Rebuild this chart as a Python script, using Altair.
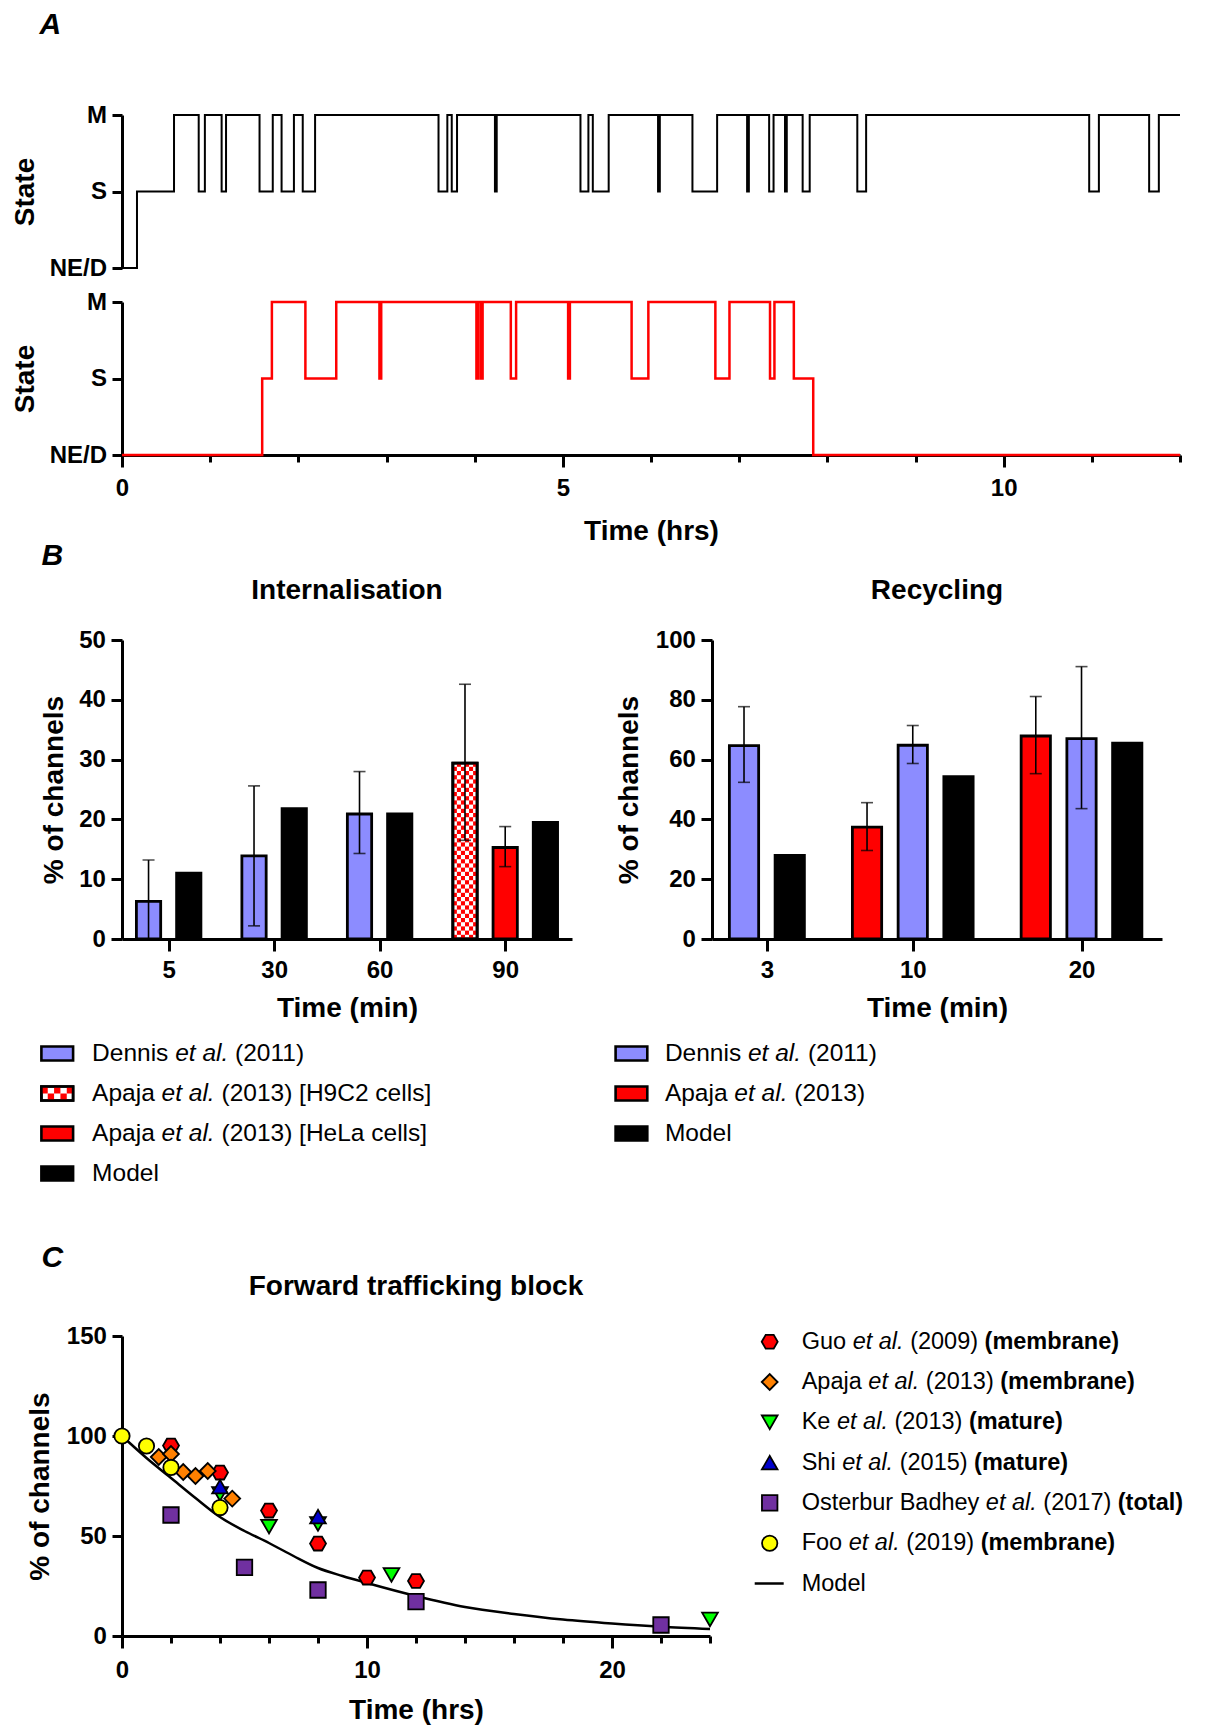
import altair as alt
import pandas as pd

FONT = "Liberation Sans"

# ---------------- Panel A : single-channel state traces ----------------
state_labels = ["NE/D", "S", "M"]
trace1_time = [0, 0.17, 0.59, 0.87, 0.94, 1.13, 1.18, 1.56, 1.71, 1.81, 1.95, 2.05, 2.19,
               3.59, 3.69, 3.74, 3.80, 4.23, 4.25, 5.20, 5.29, 5.34, 5.52, 6.08, 6.10,
               6.47, 6.75, 7.09, 7.11, 7.34, 7.39, 7.52, 7.54, 7.72, 7.80, 8.34, 8.44,
               10.97, 11.08, 11.65, 11.76, 12.0]
trace1_state = [0, 1, 2, 1, 2, 1, 2, 1, 2, 1, 2, 1, 2,
                1, 2, 1, 2, 1, 2, 1, 2, 1, 2, 1, 2,
                1, 2, 1, 2, 1, 2, 1, 2, 1, 2, 1, 2,
                1, 2, 1, 2, 2]
trace2_time = [0, 1.59, 1.70, 2.08, 2.43, 2.92, 2.94, 4.02, 4.04, 4.07, 4.09, 4.41, 4.47,
               5.06, 5.08, 5.78, 5.97, 6.73, 6.89, 7.35, 7.40, 7.62, 7.84, 12.0]
trace2_state = [0, 1, 2, 1, 2, 1, 2, 1, 2, 1, 2, 1, 2,
                1, 2, 1, 2, 1, 2, 1, 2, 1, 0, 0]

# ---------------- Panel B : internalisation / recycling ----------------
int_groups = ["5", "5", "30", "30", "60", "60", "90", "90", "90"]
int_series = ["Dennis", "Model", "Dennis", "Model", "Dennis", "Model", "ApajaH9C2", "ApajaHeLa", "Model"]
int_values = [6.3, 11.0, 13.9, 21.8, 20.9, 20.9, 29.4, 15.3, 19.5]
int_err_hi = [13.2, None, 25.6, None, 28.0, None, 42.6, 18.8, None]
int_err_lo = [0.0, None, 2.2, None, 14.3, None, 16.5, 12.1, None]

rec_groups = ["3", "3", "10", "10", "10", "20", "20", "20"]
rec_series = ["Dennis", "Model", "Apaja", "Dennis", "Model", "Apaja", "Dennis", "Model"]
rec_values = [64.7, 28.0, 37.4, 64.8, 54.3, 67.9, 67.0, 65.5]
rec_err_hi = [77.7, None, 45.6, 71.4, None, 81.1, 91.1, None]
rec_err_lo = [52.4, None, 29.6, 58.7, None, 55.3, 43.6, None]

int_legend = [[("Dennis", "r"), ("et al.", "i"), ("(2011)", "r")],
              [("Apaja", "r"), ("et al.", "i"), ("(2013) [H9C2 cells]", "r")],
              [("Apaja", "r"), ("et al.", "i"), ("(2013) [HeLa cells]", "r")],
              [("Model", "r")]]
int_legend_series = ["Dennis", "ApajaH9C2", "ApajaHeLa", "Model"]
rec_legend = [[("Dennis", "r"), ("et al.", "i"), ("(2011)", "r")],
              [("Apaja", "r"), ("et al.", "i"), ("(2013)", "r")],
              [("Model", "r")]]
rec_legend_series = ["Dennis", "Apaja", "Model"]

# ---------------- Panel C : forward trafficking block ----------------
guo_t = [2, 4, 6, 8, 10, 12]
guo_v = [95.2, 81.7, 62.7, 46.2, 29.2, 27.5]
apaja_t = [1.5, 2, 2.5, 3, 3.5, 4.5]
apaja_v = [89.5, 91.0, 82.0, 80.0, 82.5, 68.7]
ke_t = [4, 6, 8, 11, 24]
ke_v = [71.0, 54.7, 56.0, 30.5, 8.3]
shi_t = [4, 8]
shi_v = [74.7, 59.7]
oster_t = [2, 5, 8, 12, 22]
oster_v = [60.5, 34.3, 23.0, 17.2, 5.5]
foo_t = [0, 1, 2, 4]
foo_v = [100.0, 95.0, 84.3, 64.2]
model_t = [0, 1, 2, 3, 4, 5, 6, 7, 8, 9, 10, 12, 14, 16, 18, 20, 22, 24]
model_v = [100, 89, 79, 69, 59.5, 52.5, 46.5, 40, 34, 30, 26.5, 20, 14.5, 11, 8.2, 6.2, 4.6, 3.5]

c_sources = ["Guo", "Apaja", "Ke", "Shi", "Osterbur", "Foo"]
c_legend = [[("Guo", "r"), ("et al.", "i"), ("(2009)", "r"), ("(membrane)", "b")],
            [("Apaja", "r"), ("et al.", "i"), ("(2013)", "r"), ("(membrane)", "b")],
            [("Ke", "r"), ("et al.", "i"), ("(2013)", "r"), ("(mature)", "b")],
            [("Shi", "r"), ("et al.", "i"), ("(2015)", "r"), ("(mature)", "b")],
            [("Osterbur Badhey", "r"), ("et al.", "i"), ("(2017)", "r"), ("(total)", "b")],
            [("Foo", "r"), ("et al.", "i"), ("(2019)", "r"), ("(membrane)", "b")],
            [("Model", "r")]]

# ---------------- styles ----------------
BLUE = "#8C8CFF"
RED = "#FF0000"
HEX = "M-1,0L-0.5,-0.866L0.5,-0.866L1,0L0.5,0.866L-0.5,0.866Z"
c_fill = ["#FF0000", "#FF8000", "#00FF00", "#0000CC", "#7030A0", "#FFFF00"]
c_shape = [HEX, "diamond", "triangle-down", "triangle-up", "square", "circle"]
c_size = [255, 235, 215, 195, 205, 280]
bar_domain = ["Dennis", "ApajaH9C2", "ApajaHeLa", "Apaja", "Model"]
bar_range = [BLUE, "white", RED, RED, "black"]

# Arial / Liberation Sans advance widths (per 1000 em)
REG = {' ': 278, '(': 333, ')': 333, '.': 278, '[': 278, ']': 278, '/': 278}
for d in "0123456789":
    REG[d] = 556
REG.update(dict(zip("ABCDEFGHIJKLMNOPQRSTUVWXYZ",
                    [667, 667, 722, 722, 667, 611, 778, 722, 278, 500, 667, 556, 833, 722, 778, 667, 778, 722,
                     667, 611, 722, 667, 944, 667, 667, 611])))
REG.update(dict(zip("abcdefghijklmnopqrstuvwxyz",
                    [556, 556, 500, 556, 556, 278, 556, 556, 222, 222, 500, 222, 833, 556, 556, 556, 556, 333,
                     500, 278, 556, 500, 722, 500, 500, 500])))
BOLD = dict(REG)
BOLD.update(dict(zip("abcdefghijklmnopqrstuvwxyz",
                     [556, 611, 556, 611, 556, 333, 611, 611, 278, 278, 556, 278, 889, 611, 611, 611, 611, 389,
                      556, 333, 611, 556, 778, 556, 556, 500])))


def text_width(s, bold, size):
    tbl = BOLD if bold else REG
    return sum(tbl.get(ch, 556) for ch in s) * size / 1000.0


def anchor(x1, x2, y1, y2):
    return alt.Chart(alt.Data(values=[{"k": 0}])).mark_rule(opacity=0, color="white", strokeWidth=0.5).encode(
        x=alt.value(x1), x2=alt.value(x2), y=alt.value(y1), y2=alt.value(y2))


def letter(ch, x, y):
    return alt.Chart(alt.Data(values=[{"t": ch}])).mark_text(
        font=FONT, fontSize=30, fontWeight="bold", fontStyle="italic", align="left",
        baseline="alphabetic", color="black").encode(x=alt.value(x), y=alt.value(y), text="t:N")


def panel_title(txt, x, y):
    return alt.Chart(alt.Data(values=[{"t": txt}])).mark_text(
        font=FONT, fontSize=28, fontWeight="bold", align="center", baseline="middle",
        color="black").encode(x=alt.value(x), y=alt.value(y), text="t:N")


def legend_text_layers(entries, x0, y0, step, size):
    rows = []
    for i, segs in enumerate(entries):
        x = x0
        for txt, sty in segs:
            rows.append({"lx": x, "ly": y0 + i * step, "txt": txt, "sty": sty})
            x += text_width(txt + " ", sty == "b", size)
    df = pd.DataFrame(rows)
    layers = []
    for sty, style, weight in [("r", "normal", "normal"), ("i", "italic", "normal"), ("b", "normal", "bold")]:
        sub = df[df.sty == sty]
        if len(sub) == 0:
            continue
        layers.append(alt.Chart(sub).mark_text(
            font=FONT, fontSize=size, fontStyle=style, fontWeight=weight, align="left",
            baseline="middle", color="black").encode(
            x=alt.X("lx:Q", scale=None, axis=None), y=alt.Y("ly:Q", scale=None, axis=None), text="txt:N"))
    return layers


AX = dict(tickWidth=3, domainWidth=3, labelFontSize=24, labelFontWeight="bold", titleFontSize=28,
          titleFontWeight="bold", labelFlush=False, labelOverlap=False, grid=False)

# ---------------- Panel A charts ----------------
state_expr = (f"datum.value == 2 ? '{state_labels[2]}' : datum.value == 1 ? '{state_labels[1]}' : "
              f"'{state_labels[0]}'")


def state_axis():
    return alt.Axis(values=[0, 1, 2], labelExpr=state_expr, title="State", tickSize=10, labelPadding=5.4,
                    titlePadding=10, **AX)


a_xs = alt.Scale(domain=[0, 12], nice=False, zero=False)
a_ys = alt.Scale(domain=[0, 2], nice=False, zero=False)

a_top_line = alt.Chart(pd.DataFrame({"t": trace1_time, "s": trace1_state})).mark_line(
    interpolate="step-after", color="black", strokeWidth=2).encode(
    x=alt.X("t:Q", scale=a_xs, axis=None),
    y=alt.Y("s:Q", scale=a_ys, axis=state_axis()))
a_top = alt.layer(anchor(-113.5, -113.5, -107, 170), a_top_line, letter("A", -82.5, -81)).properties(
    width=1058, height=153)

a_x_axis = alt.Axis(values=list(range(13)),
                    tickSize={"condition": {"test": "datum.value % 5 === 0", "value": 12}, "value": 7},
                    labelExpr="datum.value % 5 === 0 ? datum.label : ''", title="Time (hrs)",
                    labelPadding=9.6, titlePadding=16.7, **AX)
a_bot_line = alt.Chart(pd.DataFrame({"t": trace2_time, "s": trace2_state})).mark_line(
    interpolate="step-after", color=RED, strokeWidth=2.5).encode(
    x=alt.X("t:Q", scale=a_xs, axis=a_x_axis),
    y=alt.Y("s:Q", scale=a_ys, axis=state_axis()))
a_bottom = alt.layer(anchor(-113.5, -113.5, -17, 269), a_bot_line,
                     letter("B", -80.5, 263)).properties(width=1058, height=153)


# ---------------- Panel B charts ----------------
def bar_panel(groups, series, values, hi, lo, extra, half_w, dom, ymax, ystep,
              checker, title, ytitle_pad, legend_entries, legend_series, sw_x, txt_x, anc):
    width, height = 450, 299
    pos, p, prev = [], 0.0, None
    for g in groups:
        if prev is not None:
            p += 1.0 if g == prev else 1.0 + extra
        pos.append(p)
        prev = g
    cen = {}
    for g, q in zip(groups, pos):
        cen.setdefault(g, []).append(q)
    cen = {g: sum(v) / len(v) for g, v in cen.items()}
    lab_expr = " : ".join(f"abs(datum.value - {c:.4f}) < 0.01 ? '{g}'" for g, c in cen.items()) + " : ''"

    xs = alt.Scale(domain=dom, nice=False, zero=False)
    ys = alt.Scale(domain=[0, ymax], nice=False, zero=False)
    fs = alt.Scale(domain=bar_domain, range=bar_range)
    x_axis = alt.Axis(values=list(cen.values()), labelExpr=lab_expr, title="Time (min)", tickSize=12,
                      labelPadding=7.6, titlePadding=11.7, **AX)
    y_axis = alt.Axis(values=list(range(0, ymax + 1, ystep)), title="% of channels", tickSize=11,
                      labelPadding=5.6, titlePadding=ytitle_pad, **AX)

    df_b = pd.DataFrame({"pos": pos, "series": series, "value": values})
    df_b["x0"] = df_b.pos - half_w
    df_b["x1"] = df_b.pos + half_w
    df_b["zero"] = 0.0
    bars = alt.Chart(df_b).mark_rect(stroke="black", strokeWidth=2.8).encode(
        x=alt.X("x0:Q", scale=xs, axis=x_axis), x2="x1:Q",
        y=alt.Y("value:Q", scale=ys, axis=y_axis), y2="zero:Q",
        fill=alt.Fill("series:N", scale=fs, legend=None))
    layers = [anchor(*anc), bars]

    # checkerboard bars (red squares on white)
    cells = []
    ch = 4.2 * ymax / height
    for q, s, v in zip(pos, series, values):
        if s == checker:
            ncol = 6
            cw = 2 * half_w / ncol
            j, y = 0, 0.0
            while y < v - 1e-6:
                top = min(y + ch, v)
                for i in range(ncol):
                    if (i + j) % 2 == 0:
                        cells.append({"cx0": q - half_w + i * cw, "cx1": q - half_w + (i + 1) * cw,
                                      "cy0": y, "cy1": top})
                y += ch
                j += 1
    if cells:
        layers.append(alt.Chart(pd.DataFrame(cells)).mark_rect(color=RED).encode(
            x=alt.X("cx0:Q", scale=xs), x2="cx1:Q", y=alt.Y("cy0:Q", scale=ys), y2="cy1:Q"))
        layers.append(alt.Chart(df_b[df_b.series == checker]).mark_rect(
            fillOpacity=0, stroke="black", strokeWidth=2.8).encode(
            x=alt.X("x0:Q", scale=xs), x2="x1:Q", y=alt.Y("value:Q", scale=ys), y2="zero:Q"))

    err = [{"pos": q, "lo": l, "hi": h} for q, l, h in zip(pos, lo, hi) if h is not None]
    caps = []
    for e in err:
        caps.append({"pos": e["pos"], "yv": e["hi"]})
        if e["lo"] > 0:
            caps.append({"pos": e["pos"], "yv": e["lo"]})
    layers.append(alt.Chart(pd.DataFrame(err)).mark_rule(color="black", strokeWidth=1.6).encode(
        x=alt.X("pos:Q", scale=xs), y=alt.Y("lo:Q", scale=ys), y2="hi:Q"))
    layers.append(alt.Chart(pd.DataFrame(caps)).mark_tick(
        orient="horizontal", size=12, thickness=1.6, color="black").encode(
        x=alt.X("pos:Q", scale=xs), y=alt.Y("yv:Q", scale=ys)))

    # legend
    leg_y0, leg_step = 413.5, 40
    sw = pd.DataFrame({"series": legend_series,
                       "sx1": [sw_x] * len(legend_series),
                       "sx2": [sw_x + 31.7] * len(legend_series),
                       "sy1": [leg_y0 + i * leg_step - 7 for i in range(len(legend_series))],
                       "sy2": [leg_y0 + i * leg_step + 7 for i in range(len(legend_series))]})
    layers.append(alt.Chart(sw).mark_rect(stroke="black", strokeWidth=2.6).encode(
        x=alt.X("sx1:Q", scale=None, axis=None), x2="sx2:Q",
        y=alt.Y("sy1:Q", scale=None, axis=None), y2="sy2:Q",
        fill=alt.Fill("series:N", scale=fs, legend=None)))
    sw_cells = []
    for i, s in enumerate(legend_series):
        if s == checker:
            cy = leg_y0 + i * leg_step
            for r in range(2):
                for c in range(5):
                    if (r + c) % 2 == 0:
                        sw_cells.append({"a": sw_x + c * 6.34, "b": sw_x + (c + 1) * 6.34,
                                         "c": cy - 7 + r * 7, "d": cy - 7 + (r + 1) * 7})
    if sw_cells:
        layers.append(alt.Chart(pd.DataFrame(sw_cells)).mark_rect(color=RED).encode(
            x=alt.X("a:Q", scale=None, axis=None), x2="b:Q",
            y=alt.Y("c:Q", scale=None, axis=None), y2="d:Q"))
        sw_ck = sw[sw.series == checker]
        layers.append(alt.Chart(sw_ck).mark_rect(fillOpacity=0, stroke="black", strokeWidth=2.6).encode(
            x=alt.X("sx1:Q", scale=None, axis=None), x2="sx2:Q",
            y=alt.Y("sy1:Q", scale=None, axis=None), y2="sy2:Q"))
    layers += legend_text_layers(legend_entries, txt_x, leg_y0, leg_step, 24.5)
    layers.append(panel_title(title, width / 2, -49))
    return alt.layer(*layers).properties(width=width, height=height)


b_left = bar_panel(int_groups, int_series, int_values, int_err_hi, int_err_lo, 0.623, 0.302, [-0.66, 10.53],
                   50, 10, "ApajaH9C2", "Internalisation", 10, int_legend, int_legend_series, -80.6, -29.9,
                   (-113.5, 479.9, -69, 570))
b_right = bar_panel(rec_groups, rec_series, rec_values, rec_err_hi, rec_err_lo, 0.69, 0.32, [-0.70, 9.14],
                    100, 20, None, "Recycling", 12, rec_legend, rec_legend_series, -96.4, -47.1,
                    (-110, -110, -69, 570))
b_row = alt.hconcat(b_left, b_right, spacing=0).resolve_scale(fill="independent")

# ---------------- Panel C chart ----------------
pts = []
for src, ts, vs in zip(c_sources, [guo_t, apaja_t, ke_t, shi_t, oster_t, foo_t],
                       [guo_v, apaja_v, ke_v, shi_v, oster_v, foo_v]):
    for t, v in zip(ts, vs):
        pts.append({"src": src, "t": t, "v": v})
df_pts = pd.DataFrame(pts)

c_xs = alt.Scale(domain=[0, 24], nice=False, zero=False)
c_ys = alt.Scale(domain=[0, 150], nice=False, zero=False)
fill_s = alt.Scale(domain=c_sources, range=c_fill)
shape_s = alt.Scale(domain=c_sources, range=c_shape)
size_s = alt.Scale(domain=c_sources, range=c_size)

c_x_axis = alt.Axis(values=list(range(25)),
                    tickSize={"condition": {"test": "datum.value % 10 === 0", "value": 12}, "value": 7},
                    labelExpr="datum.value % 10 === 0 ? datum.label : ''", title="Time (hrs)",
                    labelPadding=10.6, titlePadding=13.7, **AX)
c_y_axis = alt.Axis(values=[0, 50, 100, 150], title="% of channels", tickSize=10, labelPadding=5.6,
                    titlePadding=12, **AX)

c_model = alt.Chart(pd.DataFrame({"t": model_t, "v": model_v})).mark_line(
    interpolate="monotone", color="black", strokeWidth=2.5).encode(
    x=alt.X("t:Q", scale=c_xs, axis=c_x_axis), y=alt.Y("v:Q", scale=c_ys, axis=c_y_axis))
c_points = alt.Chart(df_pts).mark_point(filled=True, opacity=1, stroke="black", strokeWidth=1.8).encode(
    x=alt.X("t:Q", scale=c_xs), y=alt.Y("v:Q", scale=c_ys),
    fill=alt.Fill("src:N", scale=fill_s, legend=None),
    shape=alt.Shape("src:N", scale=shape_s, legend=None),
    size=alt.Size("src:O", scale=size_s, legend=None))

c_leg_y0, c_leg_step = 5.7, 40.3
c_leg_pts = alt.Chart(pd.DataFrame({"src": c_sources,
                                    "ly": [c_leg_y0 + i * c_leg_step for i in range(len(c_sources))]})).mark_point(
    filled=True, opacity=1, stroke="black", strokeWidth=1.8).encode(
    x=alt.value(647.7), y=alt.Y("ly:Q", scale=None, axis=None),
    fill=alt.Fill("src:N", scale=fill_s, legend=None),
    shape=alt.Shape("src:N", scale=shape_s, legend=None),
    size=alt.Size("src:O", scale=size_s, legend=None))
c_leg_line = alt.Chart(alt.Data(values=[{"k": 0}])).mark_rule(color="black", strokeWidth=2.5).encode(
    x=alt.value(632.7), x2=alt.value(661.7), y=alt.value(c_leg_y0 + 6 * c_leg_step))

c_chart = alt.layer(anchor(-113.5, -113.5, -126, 389), c_model, c_points, c_leg_pts, c_leg_line,
                    *legend_text_layers(c_legend, 679.7, c_leg_y0, c_leg_step, 23.5),
                    panel_title("Forward trafficking block", 294, -49),
                    letter("C", -80.5, -69)).properties(width=588, height=300)

chart = alt.vconcat(a_top, a_bottom, b_row, c_chart, spacing=0, padding=0).resolve_scale(
    fill="independent", shape="independent", size="independent").configure_view(
    stroke=None).configure_axis(
    domainColor="black", tickColor="black", labelColor="black", titleColor="black",
    labelFont=FONT, titleFont=FONT).configure_text(font=FONT)

chart.save("out.html", embed_options={"renderer": "svg", "actions": False})
